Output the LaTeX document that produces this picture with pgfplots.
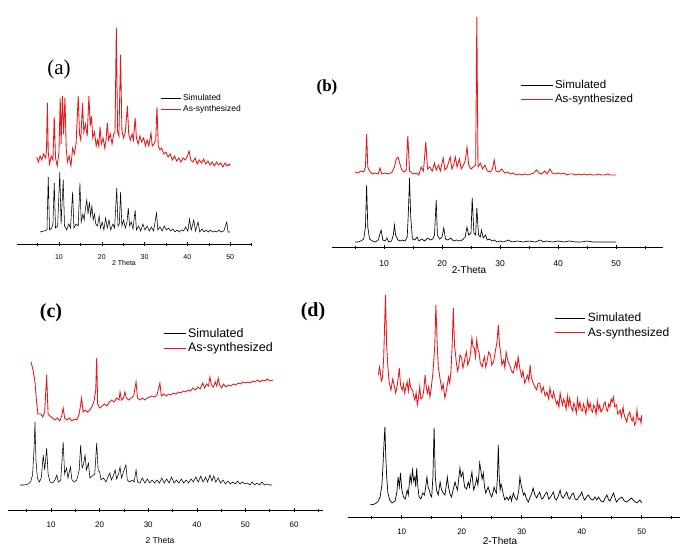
\documentclass[border=0pt]{standalone}
\usepackage{pgfplots}
\pgfplotsset{compat=1.18}
\usepackage{fontspec}
\setmainfont{Liberation Sans}
\newfontfamily\seriffont{Liberation Serif}

\definecolor{xrdred}{RGB}{232,22,22}

% one x axis line per panel, no y axis; y values are heights above the line
\pgfplotsset{
  xrd/.style={
    scale only axis,
    axis x line=bottom,
    axis y line=none,
    axis line style={-, line width=0.5pt},
    ymin=0,
    xtick={10,20,30,40,50},
    minor xtick={5,15,25,35,45,55},
    xtick align=center,
    major tick length=4pt,
    minor tick length=3pt,
    tick style={black, line width=0.5pt},
    /pgf/number format/assume math mode=true,
    clip=false,
    legend cell align=left,
    legend style={draw=none, fill=none, inner sep=0pt, row sep=0pt, anchor=north west},
  },
  sim/.style={black, line width=0.55pt},
  syn/.style={xrdred, line width=0.85pt},
}

\begin{document}
\begin{tikzpicture}
\useasboundingbox (0pt,0pt) rectangle (681pt,-547pt);

% ---------------- (a) ----------------
\begin{axis}[xrd,
  at={(17pt,-244pt)}, anchor=south west,
  width=235pt, height=230pt,
  xmin=0.2, xmax=55.1, ymax=230,
  xticklabel style={font=\fontsize{7}{7}\selectfont, yshift=-5pt},
  legend image code/.code={\draw[#1] (0pt,0pt) -- (20pt,0pt);},
  legend style={at={(0.609,0.661)}, font=\fontsize{8.5}{10}\selectfont},
]
\addplot[sim] coordinates {
(5.6,12) (6.5,13) (7.2,14) (7.5,67) (7.8,14) (8.3,16) (8.6,20) (8.9,61) (9.2,16) (9.7,18)
(10.2,72) (10.5,20) (11.0,64) (11.3,18) (11.8,14) (12.3,20) (12.7,16) (13.2,52) (13.5,16)
(14.0,20) (14.5,18) (14.9,61) (15.2,22) (15.6,30) (15.9,24) (16.2,36) (16.5,44) (16.8,30)
(17.1,42) (17.4,28) (17.7,38) (18.0,24) (18.3,30) (18.6,20) (19.0,18) (19.4,28) (19.7,16)
(20.1,22) (20.5,14) (20.9,26) (21.3,16) (21.7,24) (22.1,14) (22.6,20) (23.0,16) (23.5,56)
(23.8,18) (24.1,20) (24.4,52) (24.7,18) (25.1,24) (25.5,16) (25.9,22) (26.2,36) (26.5,18)
(26.9,22) (27.3,15) (27.8,34) (28.1,14) (28.6,18) (29.1,13) (29.6,20) (30.1,14) (30.6,18)
(31.1,13) (31.6,17) (32.1,13) (32.8,31) (33.1,14) (33.6,17) (34.1,13) (34.6,18) (35.1,14)
(35.6,16) (36.1,13) (36.6,15) (37.1,12) (37.6,14) (38.1,12) (38.6,14) (39.1,13) (39.6,17)
(40.1,13) (40.5,25) (40.9,14) (41.5,24) (41.9,13) (42.5,22) (42.9,12) (43.4,15) (43.9,12)
(44.4,14) (44.9,12) (45.4,14) (45.9,12) (46.4,13) (46.9,12) (47.4,14) (47.9,12) (48.5,13)
(49.2,22) (49.5,12) (50.0,12)
};
\addlegendentry{Simulated}
\addplot[syn] coordinates {
(4.8,87) (5.2,82) (5.6,88) (6.0,84) (6.4,90) (6.9,86) (7.1,95) (7.3,141) (7.5,92) (7.8,80)
(8.2,88) (8.6,84) (8.9,127) (9.2,86) (9.6,78) (10.0,92) (10.3,146) (10.5,100) (10.8,148)
(11.1,110) (11.4,146) (11.7,95) (12.0,82) (12.4,88) (12.8,78) (13.2,96) (13.6,90) (14.0,100)
(14.5,148) (14.8,110) (15.1,104) (15.5,141) (15.8,112) (16.2,120) (16.6,108) (17.0,148)
(17.3,118) (17.6,128) (17.9,106) (18.3,112) (18.7,98) (19.0,104) (19.3,98) (19.6,117)
(19.9,100) (20.3,106) (20.7,96) (21.0,104) (21.3,121) (21.6,104) (22.0,110) (22.4,100)
(22.8,110) (23.1,112) (23.4,216) (23.7,112) (24.0,108) (24.4,189) (24.7,114) (25.1,106)
(25.5,112) (26.0,138) (26.3,110) (26.7,104) (27.1,110) (27.4,104) (27.8,126) (28.1,106)
(28.5,100) (28.9,108) (29.3,102) (29.8,106) (30.2,98) (30.6,104) (31.0,98) (31.5,111)
(31.8,98) (32.2,100) (32.6,104) (32.9,137) (33.2,98) (33.6,94) (34.0,96) (34.5,90) (35.0,92)
(35.5,87) (36.0,90) (36.5,84) (37.0,88) (37.5,83) (38.0,86) (38.5,82) (39.0,86) (39.5,84)
(40.0,88) (40.4,93) (40.8,84) (41.3,82) (41.8,86) (42.3,80) (42.8,84) (43.3,81) (43.8,85)
(44.3,80) (44.8,83) (45.3,79) (45.8,82) (46.3,78) (46.8,82) (47.3,79) (47.8,81) (48.3,77)
(48.8,81) (49.3,78) (49.8,80) (50.0,78)
};
\addlegendentry{As-synthesized}
\end{axis}

% ---------------- (b) ----------------
\begin{axis}[xrd,
  at={(332pt,-247pt)}, anchor=south west,
  width=331pt, height=240pt,
  xmin=1.03, xmax=58.1, ymax=240,
  xticklabel style={font=\fontsize{8.5}{8.5}\selectfont, yshift=-8pt},
  legend image code/.code={\draw[#1] (0pt,0pt) -- (32pt,0pt);},
  legend style={at={(0.568,0.704)}, font=\fontsize{11.5}{14}\selectfont},
]
\addplot[black, line width=0.65pt] coordinates {
(5.0,5) (5.5,5) (6.0,6) (6.5,8) (6.8,20) (7.0,62) (7.2,20) (7.5,8) (8.0,6) (8.5,5) (9.0,7)
(9.5,17) (9.8,7) (10.2,6) (10.5,9) (10.8,5) (11.3,6) (11.6,12) (11.8,22) (12.0,12) (12.4,7)
(12.8,6) (13.2,7) (13.6,6) (14.0,10) (14.2,35) (14.4,69) (14.6,30) (14.9,8) (15.3,7)
(15.7,10) (16.0,6) (16.5,8) (17.0,6) (17.5,9) (18.0,7) (18.4,8) (18.7,12) (19.0,47) (19.2,12)
(19.6,8) (20.0,10) (20.3,19) (20.6,8) (21.0,7) (21.5,9) (22.0,6) (22.5,7) (23.0,6) (23.5,7)
(24.0,10) (24.3,20) (24.6,12) (25.0,14) (25.2,49) (25.5,14) (25.8,12) (26.0,39) (26.3,12)
(26.6,10) (26.8,17) (27.1,9) (27.5,12) (27.8,7) (28.2,8) (28.6,6) (29.0,7) (29.5,5) (30.0,6)
(30.5,5) (31.0,6) (31.5,7) (32.0,5) (33.0,6) (34.0,5) (35.0,6) (36.0,5) (37.0,7) (37.5,5)
(38.0,6) (39.0,5) (40.0,6) (41.0,5) (42.0,6) (43.0,5) (44.0,5) (45.0,6) (46.0,5) (47.0,5)
(48.0,5) (49.0,5) (50.0,5)
};
\addlegendentry{Simulated}
\addplot[syn] coordinates {
(5.0,75) (5.5,74) (6.0,76) (6.5,75) (6.8,80) (7.0,113) (7.2,80) (7.6,75) (8.0,73) (8.5,74)
(9.0,73) (9.3,79) (9.6,73) (10.2,74) (10.8,73) (11.4,75) (11.8,80) (12.1,88) (12.4,90)
(12.7,84) (13.0,78) (13.4,75) (13.8,76) (14.1,111) (14.4,76) (14.8,74) (15.2,73) (15.6,74)
(16.0,72) (16.4,80) (16.8,76) (17.2,105) (17.5,78) (17.9,80) (18.3,76) (18.7,84) (19.0,77)
(19.4,82) (19.7,76) (20.2,89) (20.5,77) (20.9,80) (21.4,90) (21.7,78) (22.0,82) (22.3,90)
(22.6,80) (23.0,88) (23.3,78) (23.7,82) (24.0,86) (24.3,100) (24.6,82) (25.0,78) (25.4,80)
(25.8,82) (26.0,230) (26.2,80) (26.6,84) (27.0,78) (27.4,82) (27.8,76) (28.3,75) (28.7,78)
(29.0,87) (29.3,76) (29.8,75) (30.3,78) (30.8,74) (31.3,75) (31.8,73) (32.3,74) (32.8,72)
(33.3,73) (33.8,72) (34.3,73) (34.8,72) (35.3,73) (35.8,74) (36.3,77) (36.7,74) (37.2,73)
(37.7,76) (38.1,73) (38.6,78) (39.0,74) (39.5,73) (40.0,74) (40.5,73) (41.0,74) (41.5,72)
(42.0,73) (42.5,73) (43.0,72) (43.5,73) (44.0,72) (44.5,73) (45.0,72) (45.5,73) (46.0,72)
(46.5,72) (47.0,73) (47.5,72) (48.0,72) (48.5,73) (49.0,72) (49.5,72) (50.0,72)
};
\addlegendentry{As-synthesized}
\end{axis}

% ---------------- (c) ----------------
\begin{axis}[xrd,
  at={(8pt,-510pt)}, anchor=south west,
  width=315pt, height=160pt,
  xmin=1.15, xmax=65.96, ymax=160,
  xtick={10,20,30,40,50,60},
  minor xtick={5,15,25,35,45,55,65},
  xticklabel style={font=\fontsize{8}{8}\selectfont, yshift=-6.5pt},
  legend image code/.code={\draw[#1] (0pt,0pt) -- (22pt,0pt);},
  legend style={at={(0.492,1.15)}, font=\fontsize{12.5}{14}\selectfont},
]
\addplot[sim] coordinates {
(3.6,25) (4.5,25) (5.3,26) (5.8,28) (6.2,35) (6.5,60) (6.7,88) (6.9,50) (7.2,32) (7.6,28)
(8.0,32) (8.4,55) (8.7,40) (9.1,62) (9.4,36) (9.8,28) (10.3,27) (10.8,30) (11.2,35) (11.5,28)
(12.0,30) (12.5,68) (12.8,36) (13.2,42) (13.5,32) (14.0,43) (14.3,30) (14.8,28) (15.3,30)
(15.8,40) (16.1,65) (16.4,42) (16.7,46) (17.0,55) (17.3,40) (17.7,47) (18.0,32) (18.5,34)
(19.0,36) (19.4,67) (19.7,40) (20.0,38) (20.3,30) (20.8,32) (21.3,28) (21.7,33) (22.1,37)
(22.4,30) (22.8,34) (23.2,40) (23.5,31) (23.9,36) (24.2,43) (24.5,32) (24.9,38) (25.4,45)
(25.7,30) (26.2,28) (26.7,30) (27.1,28) (27.5,40) (27.8,28) (28.3,27) (28.8,32) (29.3,27)
(29.8,31) (30.3,27) (30.8,30) (31.3,27) (31.8,30) (32.3,27) (32.8,32) (33.3,27) (33.8,31)
(34.3,27) (34.8,33) (35.3,27) (35.8,30) (36.3,27) (36.8,31) (37.3,27) (37.8,30) (38.3,27)
(38.8,31) (39.3,28) (39.8,33) (40.3,28) (40.8,34) (41.3,28) (41.8,33) (42.2,28) (42.7,35)
(43.1,29) (43.5,34) (43.9,28) (44.4,32) (44.9,27) (45.4,30) (45.9,26) (46.4,29) (46.9,26)
(47.4,28) (47.9,26) (48.4,29) (48.9,26) (49.4,28) (49.9,26) (50.4,27) (50.9,25) (51.4,28)
(51.9,25) (52.4,27) (52.9,25) (53.4,28) (53.9,25) (54.4,26) (55.0,25) (55.5,25)
};
\addlegendentry{Simulated}
\addplot[syn] coordinates {
(5.9,148) (6.3,140) (6.7,128) (7.0,110) (7.3,96) (7.9,96) (8.3,93) (8.7,98) (9.1,135) (9.4,96)
(9.8,94) (10.3,92) (10.8,90) (11.3,92) (11.8,89) (12.2,94) (12.5,102) (12.8,92) (13.3,90)
(13.8,92) (14.3,89) (14.8,91) (15.3,90) (15.8,96) (16.3,112) (16.6,98) (17.0,100) (17.5,98)
(18.0,100) (18.5,104) (18.9,110) (19.2,120) (19.4,152) (19.6,106) (20.0,102) (20.5,104)
(21.0,106) (21.5,104) (22.0,108) (22.5,110) (23.0,108) (23.5,112) (24.0,110) (24.2,118)
(24.5,110) (24.9,112) (25.2,118) (25.5,112) (26.0,110) (26.5,112) (27.0,114) (27.5,128)
(27.8,112) (28.3,110) (28.8,112) (29.3,110) (29.8,112) (30.3,113) (30.8,114) (31.3,113)
(31.8,115) (32.4,127) (32.7,114) (33.2,116) (33.7,114) (34.2,116) (34.7,115) (35.2,117)
(35.7,116) (36.2,118) (36.7,117) (37.2,119) (37.7,118) (38.2,120) (38.7,119) (39.2,122)
(39.7,120) (40.2,123) (40.7,121) (41.2,127) (41.6,122) (42.0,126) (42.4,124) (42.7,133)
(43.0,125) (43.4,123) (43.8,128) (44.1,124) (44.4,132) (44.7,125) (45.1,122) (45.5,126)
(46.0,123) (46.5,125) (47.0,124) (47.5,126) (48.0,125) (48.5,127) (49.0,126) (49.5,128)
(50.0,127) (50.5,128) (51.0,127) (51.5,129) (52.0,128) (52.5,130) (53.0,128) (53.5,130)
(54.0,129) (54.5,131) (55.0,129) (55.7,130)
};
\addlegendentry{As-synthesized}
\end{axis}

% ---------------- (d) ----------------
\begin{axis}[xrd,
  at={(348pt,-517pt)}, anchor=south west,
  width=332pt, height=230pt,
  xmin=1.05, xmax=56.38, ymax=230,
  xticklabel style={font=\fontsize{8}{8}\selectfont, yshift=-6.5pt},
  legend image code/.code={\draw[#1] (0pt,0pt) -- (30pt,0pt);},
  legend style={at={(0.623,0.896)}, font=\fontsize{12}{14}\selectfont},
]
\addplot[black, line width=0.7pt] coordinates {
(4.7,12) (5.5,13) (6.0,15) (6.4,20) (6.7,32) (6.9,54) (7.1,80) (7.2,90) (7.35,60) (7.5,40)
(7.7,24) (8.0,17) (8.4,14) (8.9,16) (9.2,25) (9.4,40) (9.6,30) (9.8,44) (10.0,28) (10.3,20)
(10.6,18) (10.9,27) (11.1,22) (11.4,42) (11.6,34) (11.8,47) (12.0,36) (12.2,40) (12.35,30)
(12.5,49) (12.7,30) (12.9,20) (13.2,18) (13.5,24) (13.8,22) (14.0,30) (14.2,40) (14.4,30)
(14.6,27) (14.8,22) (15.0,20) (15.2,40) (15.4,89) (15.6,40) (15.8,27) (16.1,22) (16.4,35)
(16.6,28) (16.9,24) (17.2,22) (17.4,30) (17.6,40) (17.8,30) (18.0,24) (18.3,20) (18.6,28)
(18.9,35) (19.1,30) (19.3,27) (19.5,38) (19.7,49) (19.9,40) (20.2,45) (20.35,36) (20.5,30)
(20.8,28) (21.1,35) (21.3,30) (21.5,38) (21.7,45) (21.9,32) (22.0,27) (22.3,33) (22.5,39)
(22.7,32) (22.85,42) (23.0,54) (23.2,46) (23.4,38) (23.6,44) (23.8,30) (24.0,24) (24.2,27)
(24.4,30) (24.7,24) (25.0,20) (25.2,24) (25.4,30) (25.6,26) (25.8,24) (25.95,40) (26.1,72)
(26.25,40) (26.4,27) (26.55,33) (26.7,30) (26.95,22) (27.2,17) (27.5,20) (27.8,17) (28.1,21)
(28.3,16) (28.6,24) (28.9,19) (29.2,17) (29.5,26) (29.7,40) (29.9,32) (30.1,27) (30.3,22)
(30.5,24) (30.8,18) (31.1,15) (31.4,20) (31.7,24) (31.9,29) (32.2,22) (32.5,19) (32.7,22)
(33.0,25) (33.3,18) (33.6,19) (33.9,23) (34.2,25) (34.5,18) (34.7,19) (35.0,22) (35.3,25)
(35.5,19) (35.8,17) (36.1,21) (36.4,27) (36.6,21) (36.9,19) (37.2,22) (37.5,25) (37.8,19)
(38.0,18) (38.3,22) (38.6,24) (38.9,18) (39.2,17) (39.5,20) (39.8,22) (40.0,25) (40.3,19)
(40.5,17) (40.8,20) (41.1,22) (41.5,18) (41.9,17) (42.2,20) (42.5,17) (42.8,20) (43.2,16)
(43.6,15) (43.9,19) (44.2,22) (44.5,17) (44.7,16) (45.0,20) (45.3,24) (45.6,18) (45.8,15)
(46.2,18) (46.7,20) (47.1,16) (47.5,15) (47.9,17) (48.3,19) (48.7,16) (49.2,14) (49.5,16)
(49.7,17) (50.0,14)
};
\addlegendentry{Simulated}
\addplot[syn] coordinates {
(6.1,142) (6.3,150) (6.4,147) (6.6,136) (6.8,139) (7.0,160) (7.3,222) (7.5,170) (7.7,150)
(7.9,135) (8.2,127) (8.5,138) (8.8,130) (9.0,124) (9.3,133) (9.6,149) (9.8,132) (10.1,127)
(10.3,133) (10.5,124) (10.7,130) (10.9,135) (11.1,126) (11.3,137) (11.5,129) (11.8,127)
(12.0,121) (12.2,117) (12.4,124) (12.6,112) (12.8,119) (13.0,130) (13.2,118) (13.5,120)
(13.7,128) (13.9,142) (14.1,130) (14.3,124) (14.5,130) (14.7,120) (14.9,128) (15.2,144)
(15.5,170) (15.7,212) (15.9,175) (16.1,150) (16.4,138) (16.7,127) (16.9,133) (17.2,119)
(17.5,128) (17.8,140) (18.0,134) (18.2,145) (18.4,170) (18.6,209) (18.8,172) (19.1,155)
(19.3,146) (19.5,150) (19.7,162) (20.0,159) (20.2,149) (20.4,154) (20.6,161) (20.8,165)
(21.0,152) (21.3,157) (21.5,166) (21.7,179) (21.9,170) (22.1,169) (22.3,160) (22.5,177)
(22.7,168) (22.9,164) (23.1,154) (23.4,150) (23.6,156) (23.8,160) (24.0,150) (24.2,155)
(24.5,165) (24.8,162) (25.0,152) (25.3,155) (25.5,162) (25.7,169) (25.9,176) (26.1,192)
(26.3,172) (26.5,164) (26.7,152) (27.0,157) (27.2,149) (27.4,165) (27.7,156) (28.0,152)
(28.3,146) (28.6,144) (28.8,150) (29.0,155) (29.2,148) (29.4,160) (29.7,148) (30.0,140)
(30.2,146) (30.5,134) (30.8,139) (31.0,142) (31.2,136) (31.4,152) (31.6,140) (31.9,134)
(32.2,130) (32.5,127) (32.7,133) (33.0,134) (33.3,125) (33.6,130) (33.9,121) (34.2,125)
(34.5,118) (34.7,129) (34.9,122) (35.1,119) (35.3,125) (35.5,120) (35.8,113) (36.0,116)
(36.2,110) (36.4,124) (36.6,117) (36.8,112) (37.0,118) (37.2,114) (37.4,108) (37.6,121)
(37.8,112) (38.0,119) (38.2,111) (38.5,106) (38.7,114) (38.9,110) (39.1,104) (39.3,118)
(39.5,109) (39.7,115) (39.9,107) (40.1,106) (40.3,113) (40.5,109) (40.7,103) (41.0,117)
(41.2,108) (41.4,114) (41.6,107) (41.8,105) (42.0,112) (42.2,109) (42.4,103) (42.6,116)
(42.8,108) (43.0,112) (43.2,105) (43.5,108) (43.7,113) (43.9,115) (44.1,108) (44.3,106)
(44.5,113) (44.7,110) (44.9,118) (45.1,115) (45.3,120) (45.5,110) (45.8,112) (46.0,103)
(46.2,104) (46.4,107) (46.6,100) (46.9,110) (47.0,104) (47.2,100) (47.5,95) (47.7,101)
(48.0,105) (48.2,99) (48.4,96) (48.6,100) (48.8,92) (49.0,94) (49.2,107) (49.4,97) (49.7,99)
(49.9,94) (50.0,102)
};
\addlegendentry{As-synthesized}
\end{axis}

% panel letters and axis titles
\node[font=\seriffont\fontsize{21}{21}\selectfont] at (59pt,-69pt) {(a)};
\node[font=\seriffont\bfseries\fontsize{17}{17}\selectfont] at (327pt,-87pt) {(b)};
\node[font=\seriffont\bfseries\fontsize{20}{20}\selectfont] at (51pt,-313pt) {(c)};
\node[font=\seriffont\bfseries\fontsize{20}{20}\selectfont] at (313pt,-312pt) {(d)};
\node[font=\fontsize{7}{7}\selectfont] at (124pt,-263pt) {2 Theta};
\node[font=\fontsize{10}{10}\selectfont] at (469pt,-270pt) {2-Theta};
\node[font=\fontsize{8.5}{8.5}\selectfont] at (160pt,-540pt) {2 Theta};
\node[font=\fontsize{10}{10}\selectfont] at (500pt,-541pt) {2-Theta};
\end{tikzpicture}
\end{document}
